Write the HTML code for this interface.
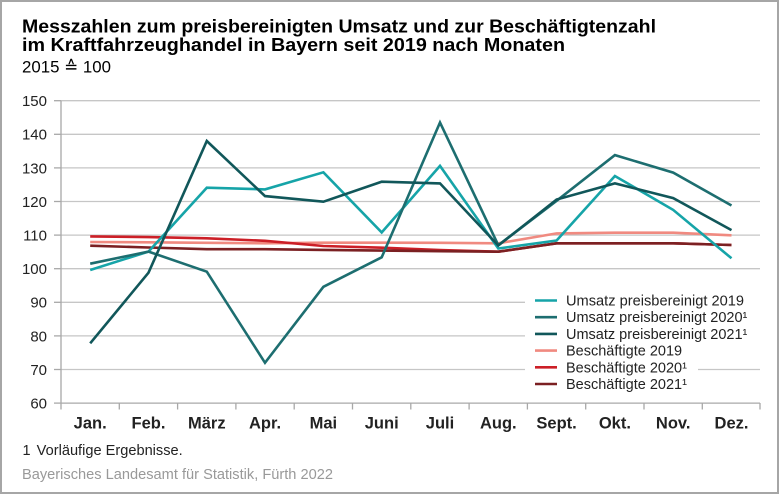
<!DOCTYPE html>
<html><head><meta charset="utf-8"><style>
html,body{margin:0;padding:0;background:#fff;}
svg{display:block;}
text{font-family:"Liberation Sans",Arial,sans-serif;}
</style></head><body>
<svg width="780" height="495" viewBox="0 0 780 495" xmlns="http://www.w3.org/2000/svg">
<rect x="0" y="0" width="780" height="495" fill="#fff"/>
<rect x="1" y="1" width="777" height="492" fill="none" stroke="#a6a6a6" stroke-width="2"/>

<!-- Titles -->
<text x="22" y="32.5" font-size="18" font-weight="bold" fill="#000" textLength="634" lengthAdjust="spacingAndGlyphs">Messzahlen zum preisbereinigten Umsatz und zur Beschäftigtenzahl</text>
<text x="22" y="51" font-size="18" font-weight="bold" fill="#000" textLength="543" lengthAdjust="spacingAndGlyphs">im Kraftfahrzeughandel in Bayern seit 2019 nach Monaten</text>
<text x="22" y="72.5" font-size="17" fill="#000" textLength="89" lengthAdjust="spacingAndGlyphs">2015 ≙ 100</text>

<!-- Gridlines -->
<g stroke="#c6c6c6" stroke-width="1.3">
<line x1="61" y1="100.7" x2="760" y2="100.7"/>
<line x1="61" y1="134.3" x2="760" y2="134.3"/>
<line x1="61" y1="167.9" x2="760" y2="167.9"/>
<line x1="61" y1="201.5" x2="760" y2="201.5"/>
<line x1="61" y1="235.1" x2="760" y2="235.1"/>
<line x1="61" y1="268.7" x2="760" y2="268.7"/>
<line x1="61" y1="302.3" x2="760" y2="302.3"/>
<line x1="61" y1="335.9" x2="760" y2="335.9"/>
<line x1="61" y1="369.5" x2="760" y2="369.5"/>
</g>
<!-- y ticks -->
<g stroke="#a8a8a8" stroke-width="1.3">
<line x1="54" y1="100.7" x2="61" y2="100.7"/>
<line x1="54" y1="134.3" x2="61" y2="134.3"/>
<line x1="54" y1="167.9" x2="61" y2="167.9"/>
<line x1="54" y1="201.5" x2="61" y2="201.5"/>
<line x1="54" y1="235.1" x2="61" y2="235.1"/>
<line x1="54" y1="268.7" x2="61" y2="268.7"/>
<line x1="54" y1="302.3" x2="61" y2="302.3"/>
<line x1="54" y1="335.9" x2="61" y2="335.9"/>
<line x1="54" y1="369.5" x2="61" y2="369.5"/>
<line x1="54" y1="403.1" x2="61" y2="403.1"/>
<!-- axes -->
<line x1="61" y1="100.7" x2="61" y2="403.1"/>
<line x1="61" y1="403.1" x2="760" y2="403.1"/>
<!-- x ticks -->
<line x1="61" y1="403" x2="61" y2="409.5"/>
<line x1="119.3" y1="403" x2="119.3" y2="409.5"/>
<line x1="177.6" y1="403" x2="177.6" y2="409.5"/>
<line x1="235.9" y1="403" x2="235.9" y2="409.5"/>
<line x1="294.2" y1="403" x2="294.2" y2="409.5"/>
<line x1="352.5" y1="403" x2="352.5" y2="409.5"/>
<line x1="410.8" y1="403" x2="410.8" y2="409.5"/>
<line x1="469.1" y1="403" x2="469.1" y2="409.5"/>
<line x1="527.4" y1="403" x2="527.4" y2="409.5"/>
<line x1="585.7" y1="403" x2="585.7" y2="409.5"/>
<line x1="644" y1="403" x2="644" y2="409.5"/>
<line x1="702.3" y1="403" x2="702.3" y2="409.5"/>
<line x1="760" y1="403" x2="760" y2="409.5"/>
</g>

<!-- y labels -->
<g font-size="15" fill="#222" text-anchor="end">
<text x="47" y="106.1">150</text>
<text x="47" y="139.7">140</text>
<text x="47" y="173.3">130</text>
<text x="47" y="206.9">120</text>
<text x="47" y="240.5">110</text>
<text x="47" y="274.1">100</text>
<text x="47" y="307.7">90</text>
<text x="47" y="341.3">80</text>
<text x="47" y="374.9">70</text>
<text x="47" y="408.5">60</text>
</g>

<!-- x labels -->
<g font-size="16.5" font-weight="bold" fill="#222" text-anchor="middle">
<text x="90.2" y="428.5">Jan.</text>
<text x="148.5" y="428.5">Feb.</text>
<text x="206.8" y="428.5">März</text>
<text x="265" y="428.5">Apr.</text>
<text x="323.4" y="428.5">Mai</text>
<text x="381.7" y="428.5">Juni</text>
<text x="440" y="428.5">Juli</text>
<text x="498.3" y="428.5">Aug.</text>
<text x="556.6" y="428.5">Sept.</text>
<text x="614.9" y="428.5">Okt.</text>
<text x="673.2" y="428.5">Nov.</text>
<text x="731.5" y="428.5">Dez.</text>
</g>

<!-- Series -->
<g fill="none" stroke-width="2.6" stroke-linejoin="miter" stroke-linecap="butt">
<polyline stroke="#f08a80" points="90.2,242.0 148.5,242.3 206.8,242.8 265,243.3 323.4,242.7 381.7,242.7 440,242.8 498.3,243.3 556.6,233.4 614.9,232.7 673.2,232.7 731.5,235.3"/>
<polyline stroke="#cc1f27" points="90.2,236.4 148.5,237.1 206.8,238.3 265,240.8 323.4,246.0 381.7,247.7 440,250.1 498.3,251.7 556.6,243.3 614.9,243.3 673.2,243.3 731.5,245.0"/>
<polyline stroke="#7b2022" points="90.2,245.7 148.5,247.5 206.8,249.2 265,249.2 323.4,249.9 381.7,250.6 440,251.2 498.3,251.7 556.6,243.3 614.9,243.3 673.2,243.3 731.5,245.0"/>
<polyline stroke="#16a4a8" points="90.2,270.0 148.5,251.6 206.8,187.7 265,189.4 323.4,172.3 381.7,232.4 440,165.9 498.3,248.5 556.6,240.5 614.9,176.0 673.2,209.9 731.5,258.3"/>
<polyline stroke="#1d6e70" points="90.2,263.7 148.5,251.6 206.8,271.7 265,362.8 323.4,286.8 381.7,257.3 440,122.5 498.3,245.2 556.6,200.8 614.9,155.1 673.2,172.6 731.5,205.5"/>
<polyline stroke="#11575a" points="90.2,343.3 148.5,272.7 206.8,141.0 265,196.1 323.4,201.7 381.7,181.7 440,183.4 498.3,245.5 556.6,199.5 614.9,183.4 673.2,198.1 731.5,230.1"/>
</g>

<!-- Legend -->
<g fill="#fff">
<rect x="525" y="292.2" width="235" height="16.8"/>
<rect x="525" y="308.9" width="235" height="16.8"/>
<rect x="525" y="325.6" width="235" height="16.8"/>
<rect x="525" y="342.3" width="172" height="16.8"/>
<rect x="525" y="359" width="173" height="16.8"/>
<rect x="525" y="375.7" width="173" height="16.8"/>
</g>
<g stroke-width="2.6">
<line x1="535" y1="300.5" x2="557" y2="300.5" stroke="#16a4a8"/>
<line x1="535" y1="317.2" x2="557" y2="317.2" stroke="#1d6e70"/>
<line x1="535" y1="333.9" x2="557" y2="333.9" stroke="#11575a"/>
<line x1="535" y1="350.6" x2="557" y2="350.6" stroke="#f08a80"/>
<line x1="535" y1="367.3" x2="557" y2="367.3" stroke="#cc1f27"/>
<line x1="535" y1="384" x2="557" y2="384" stroke="#7b2022"/>
</g>
<g font-size="14.5" fill="#222">
<text x="566" y="305.5" textLength="178" lengthAdjust="spacingAndGlyphs">Umsatz preisbereinigt 2019</text>
<text x="566" y="322.2">Umsatz preisbereinigt 2020¹</text>
<text x="566" y="338.9">Umsatz preisbereinigt 2021¹</text>
<text x="566" y="355.6">Beschäftigte 2019</text>
<text x="566" y="372.3">Beschäftigte 2020¹</text>
<text x="566" y="389">Beschäftigte 2021¹</text>
</g>

<!-- Footnotes -->
<text x="22.5" y="455" font-size="14.5" fill="#222">1</text>
<text x="36.7" y="455" font-size="14.5" fill="#222" textLength="146" lengthAdjust="spacingAndGlyphs">Vorläufige Ergebnisse.</text>
<text x="22" y="479" font-size="14.5" fill="#999" textLength="311" lengthAdjust="spacingAndGlyphs">Bayerisches Landesamt für Statistik, Fürth 2022</text>
</svg>
</body></html>
